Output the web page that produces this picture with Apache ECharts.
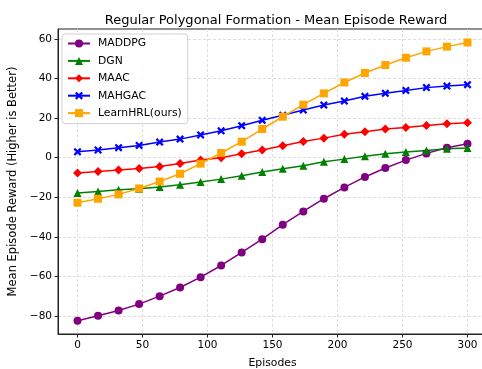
<!DOCTYPE html>
<html>
<head>
<meta charset="utf-8">
<script src="https://cdn.jsdelivr.net/npm/echarts@6/dist/echarts.min.js"></script>
<style>html,body{margin:0;padding:0;background:#fff;}#c{width:482px;height:369px;}</style>
</head>
<body>
<div id="c"></div>
<script>
const episodes = [0, 15.8, 31.6, 47.4, 63.2, 78.9, 94.7, 110.5, 126.3, 142.1, 157.9, 173.7, 189.5, 205.3, 221.1, 236.8, 252.6, 268.4, 284.2, 300];
const maddpg = [-82.3, -79.8, -77.1, -73.9, -69.9, -65.5, -60.3, -54.4, -47.8, -41.1, -33.8, -27.1, -20.7, -15.0, -9.7, -5.2, -1.2, 2.2, 5.0, 7.1];
const dgn = [-17.8, -17.0, -16.2, -15.7, -14.8, -13.6, -12.3, -10.8, -9.1, -7.2, -5.6, -4.0, -2.0, -0.7, 0.8, 2.0, 2.9, 3.7, 4.5, 4.9];
const maac = [-7.7, -6.9, -6.2, -5.4, -4.4, -2.9, -1.2, 0.0, 2.0, 3.9, 6.1, 8.2, 9.9, 11.9, 13.1, 14.5, 15.3, 16.3, 17.2, 17.7];
const mahgac = [3.0, 3.9, 5.1, 6.2, 7.9, 9.4, 11.5, 13.6, 16.2, 18.9, 21.4, 24.1, 26.6, 28.6, 31.0, 32.5, 34.0, 35.4, 36.2, 36.9];
const learnhrl = [-22.7, -20.7, -18.5, -15.5, -12.0, -8.1, -3.0, 2.4, 8.1, 14.5, 20.7, 26.8, 32.5, 38.0, 42.8, 46.8, 50.5, 53.7, 56.1, 58.2];
const xTicks = [0, 50, 100, 150, 200, 250, 300];
const yTicks = [-80, -60, -40, -20, 0, 20, 40, 60];

const X_PATH = 'path://M2,0 L5,3 L8,0 L10,2 L7,5 L10,8 L8,10 L5,7 L2,10 L0,8 L3,5 L0,2 Z';
const FONT = 'DejaVu Sans';

function pairs(ys) { return ys.map((v, i) => [episodes[i], v]); }
function mk(name, ys, color, symbol, size) {
  return {
    name: name, type: 'line', data: pairs(ys),
    symbol: symbol, symbolSize: size, showSymbol: true,
    lineStyle: { color: color, width: 1.5 },
    itemStyle: { color: color },
    clip: false, animation: false
  };
}

const chart = echarts.init(document.getElementById('c'), null, { renderer: 'canvas' });
chart.setOption({
  animation: false,
  backgroundColor: '#fff',
  title: {
    text: 'Regular Polygonal Formation - Mean Episode Reward',
    left: 271, top: 9, textAlign: 'center',
    textStyle: { fontFamily: FONT, fontSize: 13, fontWeight: 'normal', color: '#000' }
  },
  grid: {
    left: 58, top: 29, width: 429, height: 305,
    outerBoundsMode: 'none', containLabel: false,
    show: true, borderColor: '#222', borderWidth: 1, backgroundColor: 'transparent'
  },
  legend: {
    orient: 'vertical', left: 62, top: 34,
    padding: [4, 6, 5, 5], itemGap: 6.4, itemWidth: 22, itemHeight: 10,
    backgroundColor: 'rgba(255,255,255,0.85)', borderColor: '#d0d0d0', borderWidth: 1, borderRadius: 3,
    textStyle: { fontFamily: FONT, fontSize: 10.8, color: '#000', padding: [0, 0, 0, 3] },
    data: ['MADDPG', 'DGN', 'MAAC', 'MAHGAC', 'LearnHRL(ours)']
  },
  xAxis: {
    type: 'value', min: -15, max: 315,
    name: 'Episodes', nameLocation: 'middle', nameGap: 24,
    nameTextStyle: { fontFamily: FONT, fontSize: 10.8, color: '#000' },
    axisLine: { show: true, onZero: false, lineStyle: { color: '#222' } },
    axisTick: { show: true, inside: false, length: 3.5, customValues: xTicks, lineStyle: { color: '#222' } },
    axisLabel: { customValues: xTicks, fontFamily: FONT, fontSize: 10.5, color: '#000', margin: 6 },
    splitLine: { show: true, lineStyle: { color: '#d5d5d5', type: [3, 2], width: 0.8 } }
  },
  yAxis: {
    type: 'value', min: -89, max: 65,
    name: 'Mean Episode Reward (Higher is Better)', nameLocation: 'middle', nameGap: 38,
    nameTextStyle: { fontFamily: FONT, fontSize: 11.5, color: '#000' },
    axisLine: { show: true, onZero: false, lineStyle: { color: '#222' } },
    axisTick: { show: true, inside: false, length: 3.5, customValues: yTicks, lineStyle: { color: '#222' } },
    axisLabel: {
      customValues: yTicks, fontFamily: FONT, fontSize: 10.5, color: '#000', margin: 6,
      formatter: v => (v < 0 ? '\u2212' + Math.abs(v) : String(v))
    },
    splitLine: { show: true, lineStyle: { color: '#d5d5d5', type: [3, 2], width: 0.8 } }
  },
  series: [
    mk('MADDPG', maddpg, '#800080', 'circle', 8),
    mk('DGN', dgn, '#008000', 'triangle', 8),
    mk('MAAC', maac, '#ff0000', 'diamond', 9),
    mk('MAHGAC', mahgac, '#0000ff', X_PATH, 8),
    mk('LearnHRL(ours)', learnhrl, '#ffa500', 'rect', 8)
  ]
});
</script>
</body>
</html>
